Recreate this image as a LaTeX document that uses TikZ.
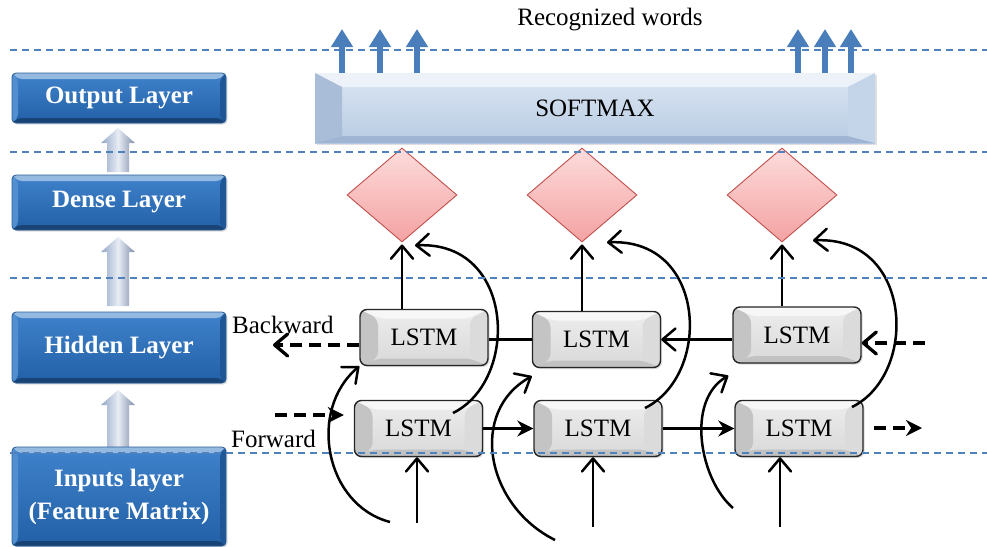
\documentclass[tikz,border=0pt]{standalone}
\usepackage{fontspec}
\setmainfont{Liberation Serif}
\usetikzlibrary{arrows.meta,shapes.geometric,calc,shadows}

\definecolor{guideblue}{HTML}{4F81BD}
\definecolor{wordblue}{HTML}{4A7EBB}
\definecolor{layertop}{HTML}{3F82CB}
\definecolor{layerbot}{HTML}{2260A6}
\definecolor{layeredge}{HTML}{2A5D97}
\definecolor{gatefill}{HTML}{F4A2A2}
\definecolor{gatelight}{HTML}{FDDCDC}
\definecolor{gateedge}{HTML}{C0504D}
\definecolor{smtop}{HTML}{DCE6F2}
\definecolor{smbot}{HTML}{B8CCE4}
\definecolor{smleft}{HTML}{A9BDD9}
\definecolor{smright}{HTML}{C4D4E9}
\definecolor{smlid}{HTML}{EDF2F9}
\definecolor{smbase}{HTML}{9FB5D3}
\definecolor{liftside}{HTML}{93A6C6}
\definecolor{liftmid}{HTML}{E8EDF5}

% bevelled face: #1 side inset, #2 top inset, #3 bottom inset,
% #4 left band, #5 right band, #6 top band, #7 bottom band
\newcommand\bevelfill[7]{%
  \path (path picture bounding box.north west) coordinate (bv1)
        (path picture bounding box.north east) coordinate (bv2)
        (path picture bounding box.south east) coordinate (bv3)
        (path picture bounding box.south west) coordinate (bv4);
  \path ($(bv1)+(#1pt,-#2pt)$) coordinate (bi1)
        ($(bv2)+(-#1pt,-#2pt)$) coordinate (bi2)
        ($(bv3)+(-#1pt,#3pt)$) coordinate (bi3)
        ($(bv4)+(#1pt,#3pt)$) coordinate (bi4);
  \fill[#6] (bv1) -- (bv2) -- (bi2) -- (bi1) -- cycle;
  \fill[#7] (bv4) -- (bv3) -- (bi3) -- (bi4) -- cycle;
  \fill[#4] (bv1) -- (bi1) -- (bi4) -- (bv4) -- cycle;
  \fill[#5] (bv2) -- (bi2) -- (bi3) -- (bv3) -- cycle;
}

% wide pale arrow between layer boxes: #1 tip y, #2 base y
\newcommand\fatuparrow[2]{%
  \shade[left color=liftside, right color=liftside!85!black, middle color=liftmid]
    (107,#2) -- (107,#1+15) -- (101,#1+15) -- (118,#1) -- (135,#1+15)
    -- (129,#1+15) -- (129,#2) -- cycle;
}

\begin{document}
\begin{tikzpicture}[x=1pt,y=-1pt,
  guide/.style={draw=guideblue, line width=1.3pt, dash pattern=on 7pt off 5pt},
  layerbox/.style={rounded corners=4pt, draw=layeredge, line width=0.8pt,
    top color=layertop, bottom color=layerbot, text=white, align=center,
    font=\bfseries\fontsize{25}{33}\selectfont, minimum width=214pt, inner sep=0pt,
    drop shadow={opacity=0.25, shadow xshift=1.5pt, shadow yshift=-1.5pt},
    path picture={\bevelfill{6}{6}{5}{layertop!90!white}{layerbot!90!black}{layertop!55!white}{layerbot!70!black}}},
  softbox/.style={top color=smtop, bottom color=smbot,
    minimum width=560pt, minimum height=70pt, inner sep=0pt,
    font=\fontsize{25}{30}\selectfont,
    drop shadow={opacity=0.25, shadow xshift=1.5pt, shadow yshift=-2pt},
    path picture={\bevelfill{27}{14}{7}{smleft}{smright}{smlid}{smbase}}},
  gate/.style={diamond, minimum width=110pt, minimum height=94pt, inner sep=0pt,
    top color=gatelight, bottom color=gatefill, draw=gateedge, line width=0.9pt},
  lstmbox/.style={rounded corners=7pt, draw=black!85, line width=1.4pt,
    top color=black!7, bottom color=black!15, minimum width=128pt, minimum height=56pt,
    inner sep=0pt, font=\fontsize{25}{30}\selectfont,
    drop shadow={opacity=0.3, shadow xshift=1.5pt, shadow yshift=-1.5pt},
    path picture={\bevelfill{18}{9}{7}{black!23}{black!14}{black!3}{black!24}}},
  link/.style={draw=black, line width=2.5pt},
  barb/.style={link, -{Straight Barb[length=13pt,width=22pt,round]}},
  solid tip/.style={link, -{Stealth[length=16pt,width=16pt]}},
  feed/.style={draw=black, line width=3.3pt, dash pattern=on 12pt off 7pt},
  wordarrow/.style={draw=wordblue, line width=6pt, -{Triangle[length=18pt,width=21pt]}},
  tag/.style={font=\fontsize{25}{30}\selectfont, inner sep=0pt}
]
\useasboundingbox (0,0) rectangle (987,546);

% ---- layer column ----
\fatuparrow{128}{172}
\fatuparrow{237}{306}
\fatuparrow{390}{448}
\node[layerbox, minimum height=50pt] (outL) at (119,98) {Output Layer};
\node[layerbox, minimum height=55pt] (denseL) at (119,202.5) {Dense Layer};
\node[layerbox, minimum height=71pt] (hidL) at (119,347.5) {Hidden Layer};
\node[layerbox, minimum height=99pt] (inL) at (119,496.5) {Inputs layer\\(Feature Matrix)};

% ---- softmax and gates ----
\node[softbox] (SM) at (595,108) {SOFTMAX};
\node[gate] (D1) at (402,195) {};
\node[gate] (D2) at (582,195) {};
\node[gate] (D3) at (782,195) {};

% ---- LSTM cells ----
\node[lstmbox] (B1) at (424,337.5) {LSTM};
\node[lstmbox] (B2) at (596.5,339.5) {LSTM};
\node[lstmbox] (B3) at (797,335) {LSTM};
\node[lstmbox] (F1) at (418.5,428.5) {LSTM};
\node[lstmbox] (F2) at (598,428.5) {LSTM};
\node[lstmbox] (F3) at (799,428.5) {LSTM};

\node[tag, anchor=base west] (bwd) at (232,333) {Backward};
\node[tag, anchor=base west] (fwd) at (231,447) {Forward};
\node[tag, anchor=base] (words) at (610,25) {Recognized words};

% ---- free ends ----
\coordinate (in1) at (417,523);
\coordinate (in2) at (593,527);
\coordinate (in3) at (780,527);
\coordinate (bout) at (273,345);
\coordinate (bin) at (925,343);
\coordinate (fin) at (275,415);
\coordinate (fout) at (922,428);
\coordinate (c1s) at (390,522);
\coordinate (c2s) at (555,540);
\coordinate (c3s) at (733,508);
\coordinate (a1s) at (453,413);
\coordinate (a2s) at (645,408);
\coordinate (a3s) at (852,407);

% inputs into the forward cells
\draw[barb] (in1) -- (in1 |- F1.south);
\draw[barb] (in2) -- (in2 |- F2.south);
\draw[barb] (in3) -- (in3 |- F3.south);

% backward cells up to the gates
\draw[barb, shorten >=2pt] (D1.south |- B1.north) -- (D1.south);
\draw[barb, shorten >=2pt] (D2.south |- B2.north) -- (D2.south);
\draw[barb, shorten >=2pt] (D3.south |- B3.north) -- (D3.south);

% backward chain
\draw[feed, -{Straight Barb[length=13pt,width=22pt,round]}] (bin) -- (B3.east |- bin);
\draw[barb] (B3.west |- B2.east) -- (B2.east);
\draw[link] (B2.west) -- (B1.east |- B2.west);
\draw[feed, -{Straight Barb[length=13pt,width=22pt,round]}] (B1.west |- bout) -- (bout);

% forward chain
\draw[feed, -{Stealth[length=16pt,width=16pt]}, shorten >=10pt] (fin) -- (F1.west |- fin);
\draw[solid tip] (F1.east) -- (F2.west);
\draw[solid tip] (F2.east) -- (F3.west);
\draw[feed, -{Stealth[length=16pt,width=16pt]}, shorten <=10pt] (F3.east |- fout) -- (fout);

% input curves into the backward cells
\draw[barb] (c1s) .. controls +(-65,-17) and +(-52,44) .. (B1.south west);
\draw[barb] (c2s) .. controls +(-70,-35) and +(-63,35) .. ($(B2.south west)+(0,8)$);
\draw[barb] (c3s) .. controls +(-33,-28) and +(-43,25) .. ($(B3.south west)+(-4,12)$);

% forward cells arcing up to the gates
\draw[barb] (a1s) .. controls +(67,-33) and +(100,-5) .. ($(D1.south)+(13,3)$);
\draw[barb] (a2s) .. controls +(67,-33) and +(100,-5) .. ($(D2.south)+(25,0)$);
\draw[barb] (a3s) .. controls +(67,-33) and +(100,-5) .. ($(D3.south)+(31,-2)$);

% horizontal guides
\draw[guide] (10,50) -- (987,50);
\draw[guide] (10,152) -- (987,152);
\draw[guide] (10,278) -- (987,278);
\draw[guide] (10,453) -- (987,453);

% recognized words leaving the softmax
\foreach \wx in {342,380,417,798,825,851}{
  \draw[wordarrow] (SM.north -| \wx,0) -- (\wx,29);
}
\end{tikzpicture}
\end{document}
